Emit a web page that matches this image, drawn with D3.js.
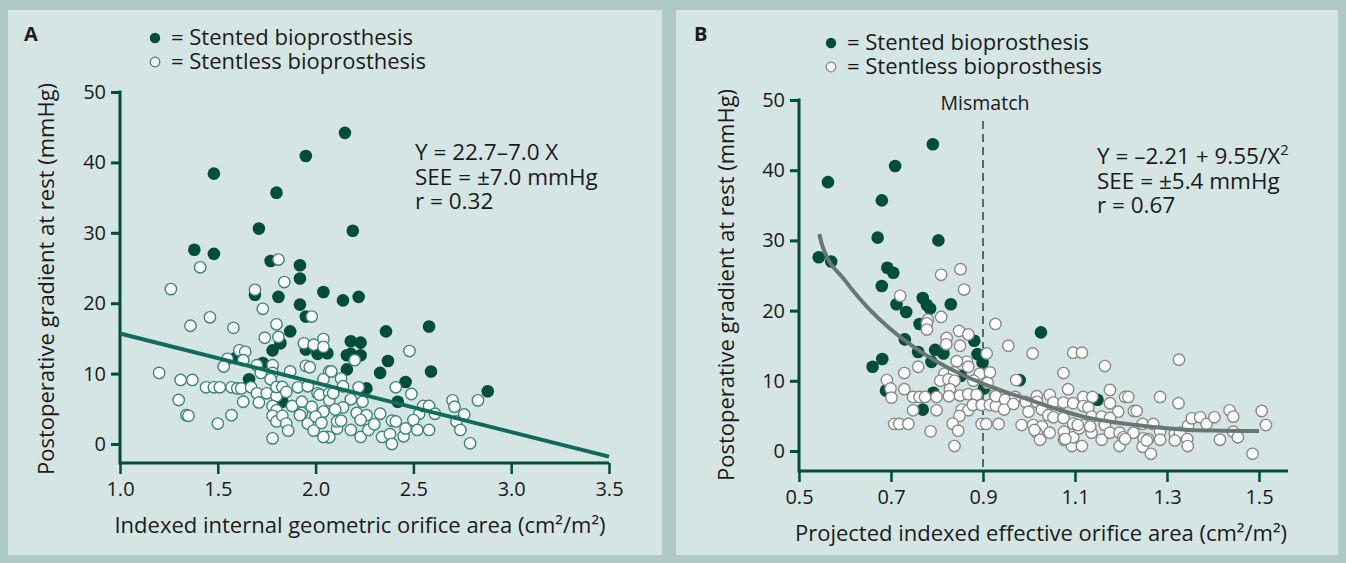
<!DOCTYPE html>
<html>
<head>
<meta charset="utf-8">
<script src="https://cdn.jsdelivr.net/npm/d3@7"></script>
<style>
  html, body { margin: 0; padding: 0; background: #aecac5; }
  svg { display: block; }
  text { font-family: "Open Sans", Lato, sans-serif; fill: #1b1b1b; }
</style>
</head>
<body>
<svg id="chart" width="1346" height="563"></svg>
<script>
// Panel A: indexed internal geometric orifice area vs gradient
const stentedA = [
  [1.48,38.4],[1.95,40.9],[1.80,35.7],[1.71,30.6],[1.38,27.6],[1.48,27.0],[1.77,26.0],[1.92,25.4],
  [1.92,23.5],[2.04,21.6],[2.15,44.2],[2.19,30.3],[2.22,20.9],[2.14,20.4],[1.69,21.2],[1.81,20.9],
  [1.92,19.8],[1.95,18.1],[1.87,16.0],[1.82,14.3],[1.78,13.3],[1.95,13.4],[2.01,12.8],[2.06,12.9],
  [1.59,12.2],[1.73,11.5],[1.66,9.2],[1.83,6.0],[2.36,16.0],[2.58,16.7],[2.18,14.6],[2.23,14.4],
  [2.16,12.6],[2.18,12.8],[2.23,12.6],[2.37,11.8],[2.16,10.6],[2.33,10.1],[2.59,10.3],[2.46,8.8],
  [2.26,7.9],[2.42,6.0],[2.88,7.5]
];
const stentlessA = [
  [1.26,22.0],[1.41,25.1],[1.81,26.2],[1.84,23.0],[1.69,21.9],
  [1.73,19.2],[1.98,18.1],[1.46,18.0],[1.36,16.8],[1.58,16.5],[1.80,17.0],
  [1.74,15.1],[1.81,15.2],[1.94,14.3],[1.99,14.1],[2.04,14.9],[2.04,13.8],
  [1.61,13.3],[1.64,13.1],[1.55,12.1],[1.63,11.9],[1.53,11.0],
  [1.70,11.2],[1.78,11.2],[1.72,10.1],[1.78,10.1],[1.87,10.3],[1.95,11.1],[1.97,10.9],[2.07,10.3],[2.04,9.2],
  [1.20,10.1],[1.31,9.1],[1.37,9.1],[1.44,8.05],[1.48,8.05],[1.51,8.05],[1.57,8.05],[1.60,7.9],[1.62,7.9],[1.67,8.05],
  [1.77,9.2],[1.70,7.2],[1.75,7.2],[1.80,6.8],[1.80,8.1],[1.83,8.1],[1.85,7.4],[1.91,8.05],[1.96,8.2],[2.01,7.2],
  [2.02,7.0],[2.07,7.2],[2.07,6.2],
  [1.30,6.25],[1.63,6.0],[1.71,5.9],[1.78,5.4],[1.80,4.8],[1.88,5.4],[1.93,6.0],[1.93,4.4],[1.98,5.3],[2.04,4.6],
  [1.34,4.1],[1.35,4.0],[1.57,4.1],[1.50,2.9],[1.78,4.0],[1.80,3.2],[1.83,4.0],[1.85,2.9],[1.86,1.9],[1.92,4.1],
  [1.96,2.9],[1.99,1.9],[2.00,3.9],[2.03,3.0],[2.06,1.0],[2.07,0.95],[1.78,0.8],[2.11,2.2],
  [2.48,13.2],[2.20,11.9],[2.08,10.3],[2.13,9.3],[2.14,8.2],[2.22,8.05],[2.41,8.05],[2.49,7.1],[2.09,7.2],
  [2.18,6.35],[2.24,6.0],[2.14,5.2],[2.10,4.9],[2.21,4.4],[2.26,4.1],[2.33,4.3],[2.53,4.3],[2.55,5.4],[2.58,5.4],
  [2.61,4.3],[2.70,6.2],[2.71,5.3],[2.76,4.2],[2.83,6.2],[2.72,3.2],[2.74,2.0],[2.79,0.1],
  [2.11,3.2],[2.13,3.3],[2.18,2.0],[2.23,3.4],[2.23,1.0],[2.27,2.0],[2.30,2.8],[2.34,1.0],[2.39,3.3],[2.41,3.2],
  [2.38,1.4],[2.39,0.0],[2.45,1.1],[2.46,2.2],[2.50,3.4],[2.52,2.0],[2.58,2.0],[2.04,1.0]
];
const fitLineA = [[1.0,15.7],[3.5,-1.8]];
const xTicksA = [1.0,1.5,2.0,2.5,3.0,3.5];

// Panel B: projected indexed effective orifice area vs gradient
const stentedB = [
  [0.791,43.7],[0.709,40.6],[0.563,38.3],[0.680,35.7],[0.671,30.4],[0.803,30.0],[0.543,27.6],[0.570,27.0],
  [0.692,26.1],[0.705,25.4],[0.680,23.5],[0.712,20.9],[0.733,19.8],[0.769,21.8],[0.778,20.8],[0.785,20.3],
  [0.830,20.9],[0.762,18.1],[0.730,15.9],[0.881,15.7],[0.759,14.1],[0.796,14.4],[0.814,13.9],[0.788,12.7],
  [0.660,12.0],[0.681,13.1],[0.888,13.8],[0.899,12.6],[0.852,10.7],[0.902,8.9],[0.689,8.6],[0.769,5.9],
  [0.792,8.3],[1.026,16.9],[0.980,10.1],[1.149,7.3]
];
const stentlessB = [
  [0.809,25.1],[0.851,25.9],[0.859,23.0],[0.720,22.1],[0.809,19.1],[0.780,18.7],
  [0.778,18.2],[0.778,17.3],[0.848,17.1],[0.868,16.6],[0.821,16.1],[0.820,15.2],[0.850,15.0],[0.908,13.9],
  [0.927,18.1],[0.865,12.7],[0.868,12.0],[0.843,12.8],[0.759,12.0],[0.729,11.1],[0.816,11.0],[0.837,11.2],
  [0.893,11.0],[0.915,11.2],[0.807,10.0],[0.825,10.2],[0.838,10.0],[0.879,10.0],[0.910,9.7],[0.691,10.1],
  [0.699,8.9],[0.701,7.6],[0.729,8.8],[0.828,8.8],[0.748,7.7],[0.762,7.7],[0.774,7.7],[0.799,7.7],[0.826,7.8],
  [0.850,7.9],[0.868,8.1],[0.886,8.0],[0.926,8.0],[0.748,5.8],[0.799,5.8],[0.854,5.9],[0.868,5.8],[0.878,6.55],
  [0.897,6.55],[0.915,6.55],[0.928,6.4],[0.849,5.0],[0.834,3.9],[0.846,2.9],[0.707,3.85],[0.718,3.85],
  [0.738,3.85],[0.786,2.8],[0.838,0.7],[0.897,3.85],[0.907,3.85],[0.934,3.85],
  [0.955,15.0],[1.008,13.9],[1.096,14.0],[1.115,14.0],[1.165,12.1],[1.326,13.0],[1.075,11.1],[0.972,10.1],
  [1.085,8.8],[1.176,8.7],
  [0.928,7.8],[0.948,7.3],[0.970,7.7],[0.993,7.0],[1.017,7.8],[1.017,7.0],[1.045,8.0],[1.053,6.9],[1.075,6.9],
  [1.096,6.8],[1.118,7.7],[1.138,7.7],[1.118,6.4],[1.129,6.2],[1.176,6.8],[1.209,7.7],[1.216,7.7],[1.194,5.6],
  [1.228,5.7],[1.234,5.7],[1.285,7.7],[1.325,6.8],[0.946,5.9],[0.966,6.7],[0.999,5.6],[1.028,5.9],[1.042,5.1],
  [1.053,4.8],[1.075,4.7],[1.096,3.9],[1.118,3.7],[1.136,4.9],[1.158,4.9],[1.176,4.7],[1.165,3.7],[0.984,3.7],
  [1.009,3.7],[1.028,3.5],[1.017,2.6],[1.024,1.6],[1.045,2.6],[1.076,2.75],[1.076,1.6],[1.093,0.7],[1.115,0.7],
  [1.096,1.95],[1.109,3.2],[1.136,2.6],[1.158,1.6],[1.176,2.6],[1.197,2.6],[1.197,0.7],[1.205,1.95],[1.227,2.6],
  [1.247,3.85],[1.270,3.85],[1.249,1.8],[1.259,1.7],[1.247,0.6],[1.265,-0.4],[1.285,2.75],[1.285,1.6],[1.317,2.5],
  [1.328,2.6],[1.317,1.5],[1.344,1.7],[1.345,0.7],[1.346,3.6],[1.354,4.65],[1.372,4.8],[1.386,3.85],[1.403,4.8],
  [1.415,1.6],[1.436,5.8],[1.444,4.9],[1.444,2.75],[1.454,1.95],[1.486,-0.4],[1.506,5.7],[1.515,3.7],
  [1.012,3.0],[1.079,1.7],[1.106,3.7],[1.133,3.5],[1.209,1.7],[1.256,1.5]
];
const fitCurveB = [
  [0.544,30.9],[0.55,29.4],[0.60,24.3],[0.65,20.4],[0.70,17.3],[0.75,14.8],[0.80,12.7],[0.85,11.0],
  [0.90,9.6],[0.95,8.4],[1.00,7.3],[1.05,6.2],[1.117,4.9],[1.175,4.2],[1.234,3.7],[1.306,3.2],
  [1.35,3.0],[1.42,2.9],[1.50,2.85]
];
const xTicksB = [0.5,0.7,0.9,1.1,1.3,1.5];
const yTicks = [0,10,20,30,40,50];
const mismatchX = 0.9;

const darkGreen = "#004d3b";
const svg = d3.select("#chart");

// panel backgrounds
svg.append("rect").attr("x", 0).attr("y", 0).attr("width", 1346).attr("height", 563).attr("fill", "#aecac5");
svg.append("rect").attr("x", 8).attr("y", 10).attr("width", 654).attr("height", 545).attr("fill", "#d4e5e3");
svg.append("rect").attr("x", 676).attr("y", 10).attr("width", 662).attr("height", 545).attr("fill", "#d4e5e3");

function drawPanel(cfg) {
  const g = svg.append("g");
  const x = d3.scaleLinear().domain(cfg.xDomain).range(cfg.xRange);
  const y = d3.scaleLinear().domain([0, 50]).range(cfg.yRange);

  // y axis
  const yAxis = g.append("g")
    .attr("transform", "translate(" + cfg.xRange[0] + ",0)")
    .call(d3.axisLeft(y).tickValues(yTicks).tickSize(9).tickPadding(5).tickFormat(d3.format("d")));
  yAxis.select(".domain").remove();
  yAxis.selectAll("line").attr("stroke", darkGreen).attr("stroke-width", 3);
  yAxis.selectAll("text").attr("font-size", 20).attr("font-family", "Open Sans").attr("fill", "#1b1b1b");
  g.append("line")
    .attr("x1", cfg.xRange[0]).attr("x2", cfg.xRange[0])
    .attr("y1", y(50) - 1.5).attr("y2", cfg.axisY + 1.5)
    .attr("stroke", darkGreen).attr("stroke-width", 3);

  // x axis
  const xAxis = g.append("g")
    .attr("transform", "translate(0," + cfg.axisY + ")")
    .call(d3.axisBottom(x).tickValues(cfg.xTicks).tickSize(11).tickPadding(8).tickFormat(d3.format(".1f")));
  xAxis.select(".domain").remove();
  xAxis.selectAll("line").attr("stroke", darkGreen).attr("stroke-width", 2.5);
  xAxis.selectAll("text").attr("font-size", 20).attr("font-family", "Open Sans").attr("fill", "#1b1b1b");
  g.append("line")
    .attr("x1", cfg.xRange[0]).attr("x2", x(cfg.xAxisEnd))
    .attr("y1", cfg.axisY).attr("y2", cfg.axisY)
    .attr("stroke", darkGreen).attr("stroke-width", 3);

  // axis titles
  g.append("text")
    .attr("x", cfg.xTitleX).attr("y", cfg.axisY + 70)
    .attr("text-anchor", "middle").attr("font-size", 22)
    .text(cfg.xTitle);
  g.append("text")
    .attr("transform", "translate(" + cfg.yTitleX + "," + cfg.yTitleY + ") rotate(-90)")
    .attr("text-anchor", "middle").attr("font-size", 22)
    .text("Postoperative gradient at rest (mmHg)");

  return { g: g, x: x, y: y };
}

function drawDots(p, stented, stentless, hollowStroke) {
  p.g.append("g").selectAll("circle").data(stented).join("circle")
    .attr("cx", d => p.x(d[0])).attr("cy", d => p.y(d[1])).attr("r", 6.3)
    .attr("fill", darkGreen);
  p.g.append("g").selectAll("circle").data(stentless).join("circle")
    .attr("cx", d => p.x(d[0])).attr("cy", d => p.y(d[1])).attr("r", 5.7)
    .attr("fill", "#ffffff").attr("stroke", hollowStroke).attr("stroke-width", 1.4);
}

// multi-line block kept in one text element
function textBlock(tx, ty, lineGap, size, lines) {
  const el = svg.append("text").attr("x", tx).attr("y", ty).attr("font-size", size);
  lines.forEach(function (t, i) {
    const parts = Array.isArray(t) ? t : [t];
    el.append("tspan").attr("x", tx).attr("y", ty + i * lineGap).text(parts[0]);
    if (parts.length > 1) {
      el.append("tspan").attr("font-size", size * 0.66).attr("dy", -9).text(parts[1]);
    }
  });
  return el;
}

function drawLegend(lx, ly, hollowStroke) {
  const lg = svg.append("g");
  lg.append("circle").attr("cx", lx).attr("cy", ly).attr("r", 5.2).attr("fill", darkGreen);
  lg.append("circle").attr("cx", lx).attr("cy", ly + 24).attr("r", 4.8)
    .attr("fill", "#ffffff").attr("stroke", hollowStroke).attr("stroke-width", 1.3);
  textBlock(lx + 16, ly + 7, 24, 22, ["= Stented bioprosthesis", "= Stentless bioprosthesis"]);
}

// ---- Panel A
const pA = drawPanel({
  xDomain: [1.0, 3.5], xRange: [120, 609], yRange: [444, 92], axisY: 463,
  xTicks: xTicksA, xAxisEnd: 3.5,
  xTitle: "Indexed internal geometric orifice area (cm\u00b2/m\u00b2)", xTitleX: 360,
  yTitleX: 54, yTitleY: 279
});
drawDots(pA, stentedA, stentlessA, "#3a8676");
pA.g.append("path")
  .datum(fitLineA)
  .attr("d", d3.line().x(d => pA.x(d[0])).y(d => pA.y(d[1])))
  .attr("fill", "none").attr("stroke", "#0f6b5c").attr("stroke-width", 4);
svg.append("text").attr("x", 24).attr("y", 41).attr("font-size", 20).attr("font-weight", "bold").text("A");
drawLegend(155, 38, "#3a8676");
textBlock(415, 160, 24.5, 22.5, ["Y = 22.7\u20137.0 X", "SEE = \u00b17.0 mmHg", "r = 0.32"]);

// ---- Panel B
const pB = drawPanel({
  xDomain: [0.5, 1.5], xRange: [799, 1259], yRange: [451, 100], axisY: 471,
  xTicks: xTicksB, xAxisEnd: 1.563,
  xTitle: "Projected indexed effective orifice area (cm\u00b2/m\u00b2)", xTitleX: 1041,
  yTitleX: 734, yTitleY: 285
});
pB.g.append("line")
  .attr("x1", pB.x(mismatchX)).attr("x2", pB.x(mismatchX))
  .attr("y1", 121).attr("y2", 471)
  .attr("stroke", "#1d3d35").attr("stroke-width", 1.4).attr("stroke-dasharray", "8,5");
svg.append("text").attr("x", pB.x(mismatchX) + 2).attr("y", 110).attr("text-anchor", "middle")
  .attr("font-size", 19.5).attr("fill", "#2a2a2a").text("Mismatch");
drawDots(pB, stentedB, stentlessB, "#858a88");
pB.g.append("path")
  .datum(fitCurveB)
  .attr("d", d3.line().curve(d3.curveMonotoneX).x(d => pB.x(d[0])).y(d => pB.y(d[1])))
  .attr("fill", "none").attr("stroke", "#677874").attr("stroke-width", 4);
svg.append("text").attr("x", 694).attr("y", 41).attr("font-size", 20).attr("font-weight", "bold").text("B");
drawLegend(831, 43, "#858a88");
textBlock(1097, 164, 24.5, 22.5, [["Y = \u20132.21 + 9.55/X", "2"], "SEE = \u00b15.4 mmHg", "r = 0.67"]);
</script>
</body>
</html>
